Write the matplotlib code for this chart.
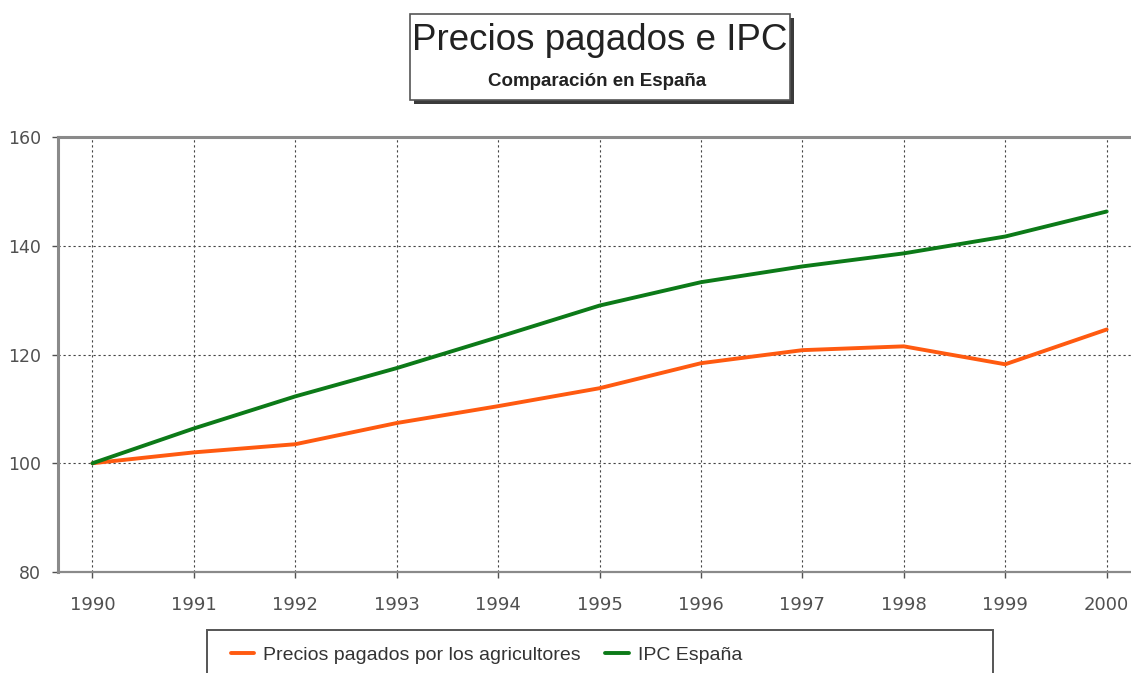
import matplotlib.pyplot as plt
from matplotlib.patches import Rectangle

# data
years = [1990, 1991, 1992, 1993, 1994, 1995, 1996, 1997, 1998, 1999, 2000]
precios_agricultores = [100, 102.0, 103.5, 107.4, 110.5, 113.8, 118.4, 120.8, 121.5, 118.2, 124.6]
ipc_espana = [100, 106.4, 112.3, 117.5, 123.2, 129.0, 133.3, 136.2, 138.6, 141.7, 146.3]
y_ticks = [80, 100, 120, 140, 160]

orange = '#ff5a10'
green = '#0c7a18'
tick_grey = '#505050'

fig = plt.figure(figsize=(11.31, 6.73), dpi=100)
W, H = 1131, 673

ax = fig.add_axes([58 / W, 1 - 572 / H, 1073 / W, 435 / H])
ax.plot(years, precios_agricultores, color=orange, lw=2.8, solid_capstyle='round',
        label='Precios pagados por los agricultores', zorder=3)
ax.plot(years, ipc_espana, color=green, lw=2.8, solid_capstyle='round',
        label='IPC España', zorder=4)

ax.set_xlim(1989.66, 2000.24)
ax.set_ylim(80, 160)
ax.set_xticks(years)
ax.set_yticks(y_ticks)
ax.tick_params(axis='both', colors=tick_grey, labelsize=13, length=4, width=1)
ax.tick_params(axis='x', pad=13)
ax.tick_params(axis='y', labelsize=12.5, pad=8)
for lab in ax.get_xticklabels() + ax.get_yticklabels():
    lab.set_family('DejaVu Sans')
    lab.set_color(tick_grey)

ax.grid(True, color='#444444', linestyle=(0, (2, 2.5)), lw=0.8)
ax.spines['right'].set_visible(False)
for side in ['left', 'top']:
    ax.spines[side].set_color('#8a8a8a')
    ax.spines[side].set_linewidth(2.2)
ax.spines['bottom'].set_color('#8a8a8a')
ax.spines['bottom'].set_linewidth(1.6)

# title box with shadow
bx, by, bw, bh = 410, 14, 380, 86
fig.patches.append(Rectangle(((bx + 4) / W, 1 - (by + bh + 4) / H), bw / W, bh / H,
                             transform=fig.transFigure, facecolor='#3a3a3a',
                             edgecolor='none', zorder=1))
fig.patches.append(Rectangle((bx / W, 1 - (by + bh) / H), bw / W, bh / H,
                             transform=fig.transFigure, facecolor='white',
                             edgecolor='#555555', lw=1.2, zorder=2))
fig.text(600 / W, 1 - 41 / H, 'Precios pagados e IPC', ha='center', va='center',
         fontsize=26.5, family='Liberation Sans', color='#222222', zorder=3)
fig.text(597 / W, 1 - 82 / H, 'Comparación en España', ha='center', va='center',
         fontsize=13.5, family='Liberation Sans', weight='bold', color='#222222', zorder=3)

# legend box, cut by the bottom edge
fig.patches.append(Rectangle((207 / W, -0.05), 786 / W, (H - 630) / H + 0.05,
                             transform=fig.transFigure, facecolor='white',
                             edgecolor='#555555', lw=1.4, zorder=1))
leg = fig.legend(loc='center left', bbox_to_anchor=(213 / W, 1 - 655 / H), ncol=2,
                 frameon=False, handlelength=1.2, handletextpad=0.45, columnspacing=1.3,
                 prop={'family': 'Liberation Sans', 'size': 14})
for t in leg.get_texts():
    t.set_color('#333333')

fig.savefig('out.png', dpi=100)
